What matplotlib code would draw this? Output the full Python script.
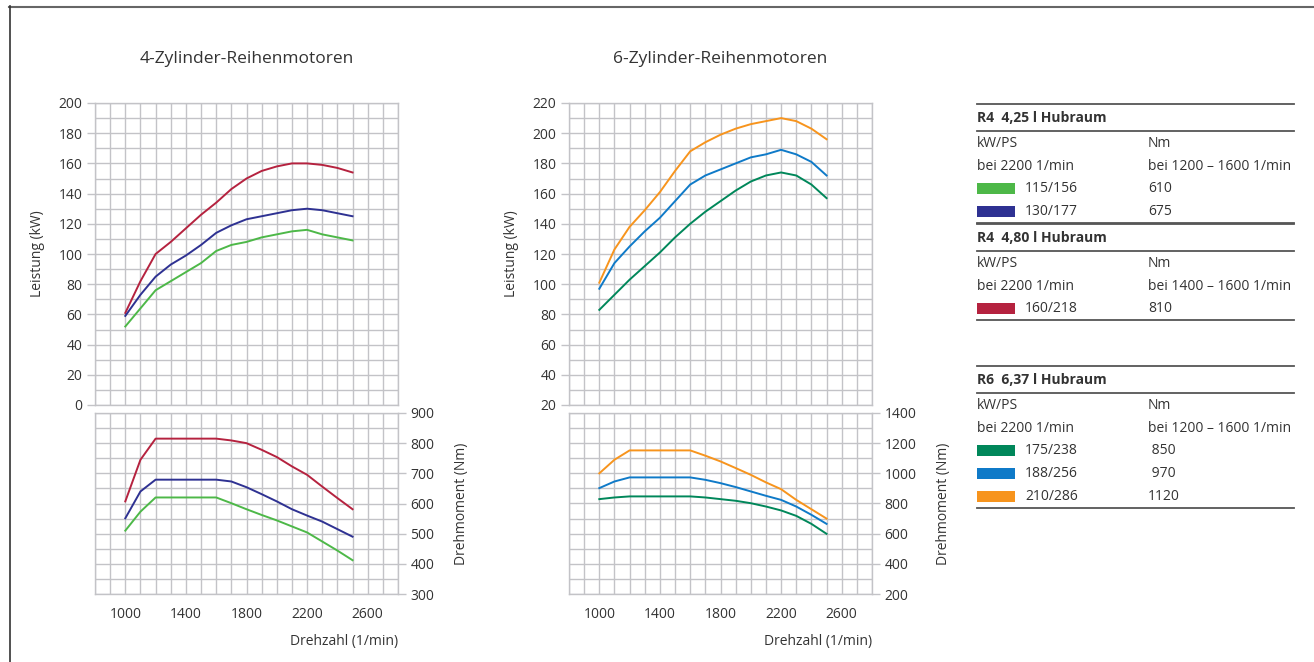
import numpy as np
import matplotlib
matplotlib.use("Agg")
import matplotlib.pyplot as plt
from matplotlib.patches import Rectangle

plt.rcParams["font.family"] = ["Open Sans", "DejaVu Sans"]

# Drehzahl (1/min)
rpm = [1000, 1100, 1200, 1300, 1400, 1500, 1600, 1700, 1800, 1900, 2000, 2100, 2200, 2300, 2400, 2500]

# 4-Zylinder: Leistung (kW)
r4_115_kw = [52, 64, 76, 82, 88, 94, 102, 106, 108, 111, 113, 115, 116, 113, 111, 109]
r4_130_kw = [59, 73, 85, 93, 99, 106, 114, 119, 123, 125, 127, 129, 130, 129, 127, 125]
r4_160_kw = [61, 82, 100, 108, 117, 126, 134, 143, 150, 155, 158, 160, 160, 159, 157, 154]
# 4-Zylinder: Drehmoment (Nm)
r4_115_nm = [510, 573, 620, 620, 620, 620, 620, 601, 581, 562, 544, 524, 504, 474, 444, 412]
r4_130_nm = [551, 640, 679, 679, 679, 679, 679, 673, 654, 631, 607, 581, 560, 540, 515, 490]
r4_160_nm = [607, 745, 815, 815, 815, 815, 815, 809, 800, 778, 754, 723, 695, 656, 618, 581]

# 6-Zylinder: Leistung (kW)
r6_175_kw = [83, 93, 103, 112, 121, 131, 140, 148, 155, 162, 168, 172, 174, 172, 166, 157]
r6_188_kw = [97, 114, 125, 135, 144, 155, 166, 172, 176, 180, 184, 186, 189, 186, 181, 172]
r6_210_kw = [101, 123, 138, 149, 161, 175, 188, 194, 199, 203, 206, 208, 210, 208, 203, 196]
# 6-Zylinder: Drehmoment (Nm)
r6_175_nm = [829, 840, 847, 847, 847, 847, 847, 840, 829, 818, 802, 780, 754, 718, 665, 599]
r6_188_nm = [902, 946, 973, 973, 973, 973, 973, 957, 935, 909, 880, 851, 824, 780, 725, 665]
r6_210_nm = [1000, 1090, 1152, 1152, 1152, 1152, 1152, 1117, 1079, 1035, 990, 940, 895, 824, 762, 700]

c_green = "#4db848"
c_navy = "#2e3192"
c_red = "#b5223f"
c_teal = "#00875a"
c_blue = "#0f7ac8"
c_orange = "#f7941d"

# Legende
sections = ["R4  4,25 l Hubraum", "R4  4,80 l Hubraum", "R6  6,37 l Hubraum"]
nm_ranges = ["bei 1200 – 1600 1/min", "bei 1400 – 1600 1/min", "bei 1200 – 1600 1/min"]
legend_kwps = [["115/156", "130/177"], ["160/218"], ["175/238", "188/256", "210/286"]]
legend_nm = [["610", "675"], ["810"], [" 850", " 970", "1120"]]
legend_colors = [[c_green, c_navy], [c_red], [c_teal, c_blue, c_orange]]

W, H = 1314, 662
fig = plt.figure(figsize=(W / 100, H / 100), dpi=100)
GRID = "#c3c3c7"
TXT = "#333333"
FS = 10


def px_axes(x0, y0, x1, y1):
    return fig.add_axes([x0 / W, 1 - y1 / H, (x1 - x0) / W, (y1 - y0) / H])


def style(ax, ymin, ymax, ymaj, ymin_step, side):
    ax.set_xlim(800, 2800)
    ax.set_ylim(ymin, ymax)
    ax.set_xticks(np.arange(1000, 2601, 400))
    ax.set_xticks(np.arange(800, 2801, 100), minor=True)
    ax.set_yticks(np.arange(ymin, ymax + 1, ymaj))
    ax.set_yticks(np.arange(ymin, ymax + 1, ymin_step), minor=True)
    ax.grid(True, which="both", color=GRID, lw=1.0)
    ax.set_axisbelow(True)
    for s in ax.spines.values():
        s.set_color(GRID)
        s.set_linewidth(1.0)
    ax.tick_params(axis="x", which="both", length=0, colors=TXT, labelsize=FS, pad=9)
    ax.tick_params(axis="y", which="major", length=6, color=GRID, width=1.0, labelcolor=TXT, labelsize=FS, pad=3)
    ax.tick_params(axis="y", which="minor", length=0)
    if side == "right":
        ax.yaxis.tick_right()
        ax.yaxis.set_label_position("right")
        ax.tick_params(axis="y", which="both", left=False)


def draw_chart(x0, x1, title, kw_series, nm_series, kw_lim, nm_lim, nm_step):
    top = px_axes(x0, 103, x1, 405)
    style(top, kw_lim[0], kw_lim[1], 20, 10, "left")
    top.tick_params(axis="x", labelbottom=False)
    for vals, col in kw_series:
        top.plot(rpm, vals, color=col, lw=1.4)
    top.set_ylabel("Leistung (kW)", fontsize=FS, color=TXT, labelpad=10)
    top.set_title(title, fontsize=12.5, color=TXT, pad=29)

    bot = px_axes(x0, 413, x1, 594)
    style(bot, nm_lim[0], nm_lim[1], nm_step, nm_step / 2, "right")
    for vals, col in nm_series:
        bot.plot(rpm, vals, color=col, lw=1.4)
    bot.set_ylabel("Drehmoment (Nm)", fontsize=FS, color=TXT, labelpad=14)
    bot.set_xlabel("Drehzahl (1/min)", fontsize=FS, color=TXT, loc="right", labelpad=9)


draw_chart(95, 398, "4-Zylinder-Reihenmotoren",
           [(r4_160_kw, c_red), (r4_130_kw, c_navy), (r4_115_kw, c_green)],
           [(r4_160_nm, c_red), (r4_130_nm, c_navy), (r4_115_nm, c_green)],
           (0, 200), (300, 900), 100)
draw_chart(569, 872, "6-Zylinder-Reihenmotoren",
           [(r6_210_kw, c_orange), (r6_188_kw, c_blue), (r6_175_kw, c_teal)],
           [(r6_210_nm, c_orange), (r6_188_nm, c_blue), (r6_175_nm, c_teal)],
           (20, 220), (200, 1400), 200)

# Overlay in Pixelkoordinaten: Rahmen und Legendentabelle
ov = fig.add_axes([0, 0, 1, 1])
ov.set_xlim(0, W)
ov.set_ylim(H, 0)
ov.axis("off")
ov.plot([9, W], [6.5, 6.5], color="#666666", lw=1.5)
ov.plot([9.5, 9.5], [6, H], color="#333333", lw=1.2)

LX, RX, NX = 977, 1294, 1148
LINE = "#555555"
sec_tops = [104, 224, 366]
for i, name in enumerate(sections):
    y = sec_tops[i]
    ov.plot([LX, RX], [y, y], color=LINE, lw=1.3)
    ov.text(LX, y + 13.5, name, fontsize=FS, fontweight="bold", color=TXT, va="center")
    ov.plot([LX, RX], [y + 26.5, y + 26.5], color=LINE, lw=1.3)
    ov.text(LX, y + 39.5, "kW/PS", fontsize=FS, color=TXT, va="center")
    ov.text(NX, y + 39.5, "Nm", fontsize=FS, color=TXT, va="center")
    ov.text(LX, y + 62, "bei 2200 1/min", fontsize=FS, color=TXT, va="center")
    ov.text(NX, y + 62, nm_ranges[i], fontsize=FS, color=TXT, va="center")
    yy = y + 84.5
    for kw, nm, col in zip(legend_kwps[i], legend_nm[i], legend_colors[i]):
        ov.add_patch(Rectangle((LX, yy - 5.5), 38, 11, color=col, lw=0))
        ov.text(1025, yy, kw, fontsize=FS, color=TXT, va="center")
        ov.text(NX, yy, nm, fontsize=FS, color=TXT, va="center")
        yy += 23
    ov.plot([LX, RX], [yy - 11.5, yy - 11.5], color=LINE, lw=1.3)

fig.savefig("out.png", dpi=100)
